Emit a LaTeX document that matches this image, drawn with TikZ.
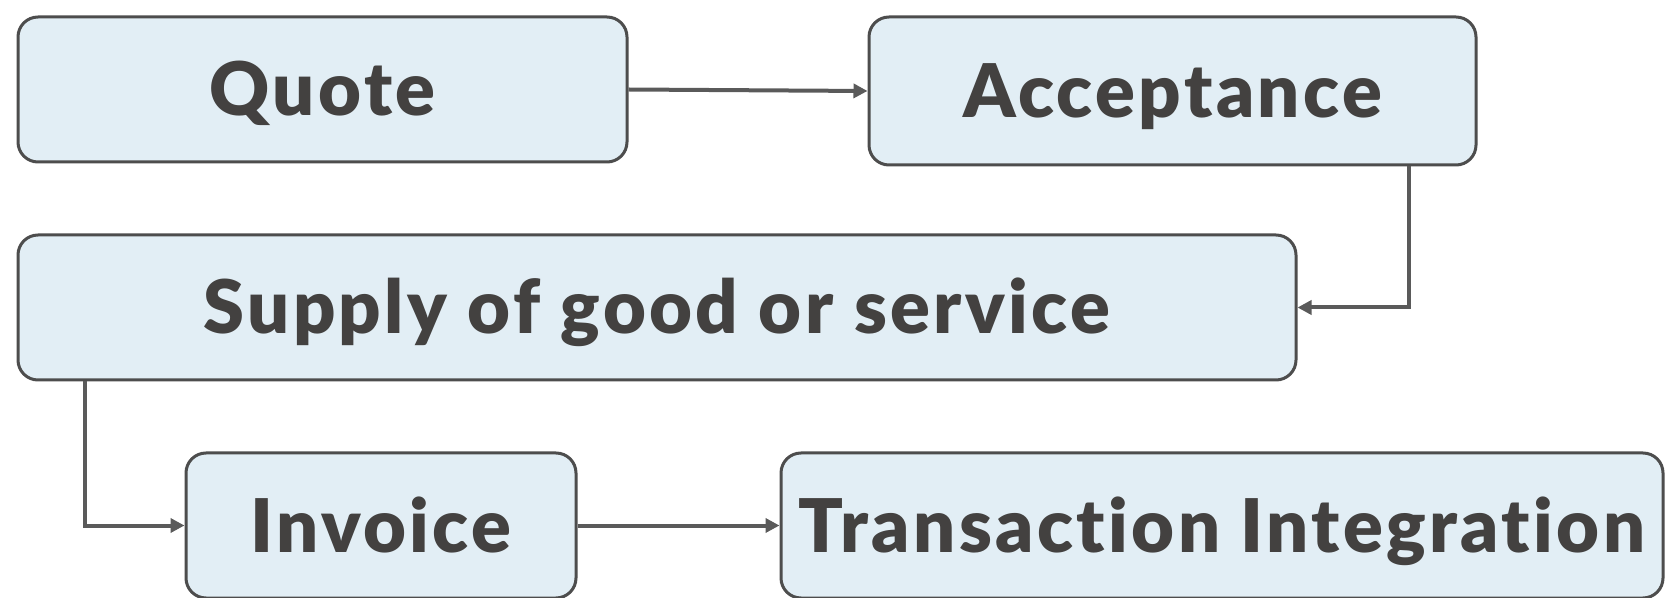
\documentclass[tikz,border=0pt]{standalone}
\usepackage{fontspec}
\usetikzlibrary{arrows.meta}
\newfontfamily\boxfont{Lato Black}[Ligatures=NoCommon, LetterSpace=4.6]
\definecolor{boxfill}{HTML}{E2EEF5}
\definecolor{boxline}{HTML}{4D4D4D}
\definecolor{arrowline}{HTML}{5A5A5A}
\definecolor{boxtext}{HTML}{434140}
\tikzset{
  stepbox/.style={draw=boxline, fill=boxfill, line width=1.5pt, rounded corners=10pt,
    minimum height=72.5pt, inner sep=0pt, text=boxtext,
    text height=26.5pt, text depth=0pt,
    font=\boxfont\fontsize{37}{42}\selectfont},
  flow/.style={draw=arrowline, line width=2pt,
    -{Triangle[length=7pt,width=7pt]}}
}
\begin{document}
\begin{tikzpicture}[x=0.5pt,y=-0.5pt]
  \useasboundingbox (0,0) rectangle (1665,598);
  \node[stepbox, minimum width=304.5pt] (q) at (322.5,89.5) {Quote};
  \node[stepbox, minimum width=303.5pt, minimum height=74pt] (a) at (1172.5,91) {Acceptance};
  \node[stepbox, minimum width=639pt] (s) at (657,307.5) {Supply of good or service};
  \node[stepbox, minimum width=195pt] (i) at (381,525.5) {Invoice};
  \node[stepbox, minimum width=441pt] (t) at (1222,525.5) {Transaction Integration};
  \coordinate (drop1) at (1409,0);
  \coordinate (drop2) at (85,0);
  \draw[flow] (q.east) -- (a.west);
  \draw[flow] (a.south -| drop1) |- (s.east);
  \draw[flow] (s.south -| drop2) |- (i.west);
  \draw[flow] (i.east) -- (t.west);
\end{tikzpicture}
\end{document}
